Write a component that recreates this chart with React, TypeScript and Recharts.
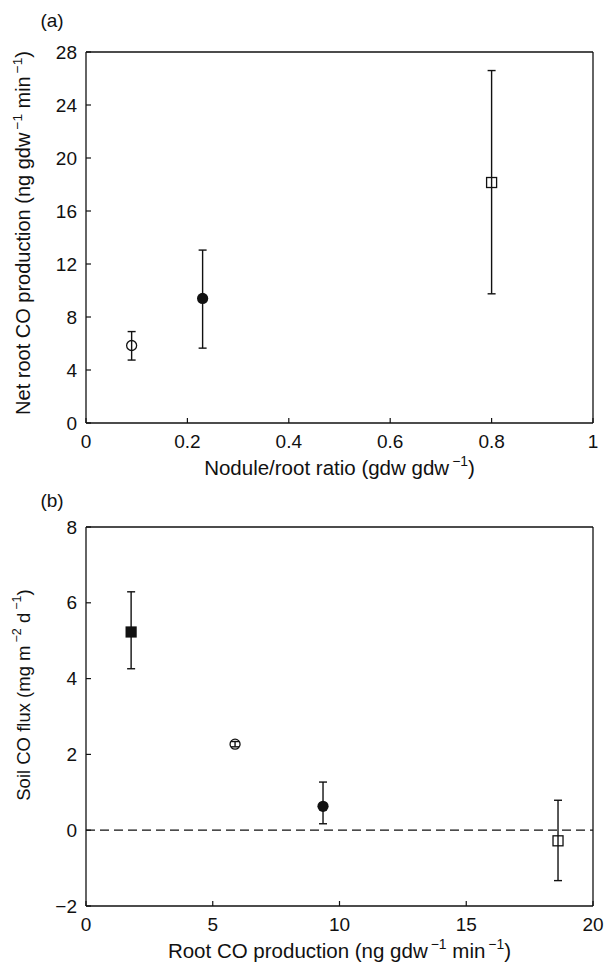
import React from "react";
import { ScatterChart, Scatter, XAxis, YAxis, ErrorBar, ReferenceLine, Label } from "recharts";

const FONT = '"Liberation Sans", Arial, Helvetica, sans-serif';
const INK = "#111";
const TICK_LEN = 5;
const FS = 19;

// (a) net root CO production against nodule/root ratio
const ratioA = [0.09, 0.23, 0.8];
const prodA = [5.85, 9.4, 18.15];
const lowA = [4.75, 5.65, 9.75];
const highA = [6.9, 13.05, 26.6];
const markA = ["openCircle", "filledCircle", "openSquare"];
const xTicksA = [0, 0.2, 0.4, 0.6, 0.8, 1];
const yTicksA = [0, 4, 8, 12, 16, 20, 24, 28];

// (b) soil CO flux against root CO production
const prodB = [1.78, 5.88, 9.35, 18.62];
const fluxB = [5.23, 2.27, 0.63, -0.28];
const lowB = [4.26, 2.2, 0.17, -1.33];
const highB = [6.29, 2.34, 1.27, 0.79];
const markB = ["filledSquare", "openCircle", "filledCircle", "openSquare"];
const xTicksB = [0, 5, 10, 15, 20];
const yTicksB = [-2, 0, 2, 4, 6, 8];

const toPoints = (xs: number[], ys: number[], lo: number[], hi: number[], marks: string[]) =>
  xs.map((x, i) => ({ x, y: ys[i], err: [ys[i] - lo[i], hi[i] - ys[i]], mark: marks[i] }));

const pointsA = toPoints(ratioA, prodA, lowA, highA, markA);
const pointsB = toPoints(prodB, fluxB, lowB, highB, markB);

const fmt = (v: number) => (v < 0 ? `\u2212${-v}` : `${v}`);

const Marker = (props: any) => {
  const { cx, cy, payload } = props;
  switch (payload.mark) {
    case "filledCircle":
      return <circle cx={cx} cy={cy} r={5.6} fill={INK} />;
    case "openCircle":
      return <circle cx={cx} cy={cy} r={5} fill="none" stroke={INK} strokeWidth={1.3} />;
    case "filledSquare":
      return <rect x={cx - 5.6} y={cy - 5.6} width={11.2} height={11.2} fill={INK} />;
    default:
      return <rect x={cx - 5} y={cy - 5} width={10} height={10} fill="none" stroke={INK} strokeWidth={1.3} />;
  }
};

// inward ticks on all four sides of the frame
const BottomTick = ({ x, y, payload }: any) => (
  <g>
    <line x1={x} x2={x} y1={y} y2={y - TICK_LEN} stroke={INK} strokeWidth={1.2} />
    <text x={x} y={y + 18} textAnchor="middle" dominantBaseline="central" fontSize={FS} fontFamily={FONT} fill={INK}>
      {fmt(payload.value)}
    </text>
  </g>
);
const LeftTick = ({ x, y, payload }: any) => (
  <g>
    <line x1={x} x2={x + TICK_LEN} y1={y} y2={y} stroke={INK} strokeWidth={1.2} />
    <text x={x - 9} y={y} textAnchor="end" dominantBaseline="central" fontSize={FS} fontFamily={FONT} fill={INK}>
      {fmt(payload.value)}
    </text>
  </g>
);
const TopTick = ({ x, y }: any) => <line x1={x} x2={x} y1={y} y2={y + TICK_LEN} stroke={INK} strokeWidth={1.2} />;
const RightTick = ({ x, y }: any) => <line x1={x} x2={x - TICK_LEN} y1={y} y2={y} stroke={INK} strokeWidth={1.2} />;

// raised exponent followed by the rest of the title on the baseline
const Sup = ({ exp, after }: { exp: string; after: string }) => (
  <>
    <tspan dx={3} dy={-6} fontSize="0.68em">{exp}</tspan>
    <tspan dy={6}>{after}</tspan>
  </>
);

const textProps = { fontFamily: FONT, fill: INK, textAnchor: "middle" as const, dominantBaseline: "central" as const };

const axisStroke = { stroke: INK, strokeWidth: 1.3 };

interface PanelProps {
  tag: string;
  points: any[];
  width: number;
  height: number;
  plot: { left: number; top: number; right: number; bottom: number };
  xDomain: [number, number];
  yDomain: [number, number];
  xTicks: number[];
  yTicks: number[];
  xTitle: React.ReactNode;
  yTitle: React.ReactNode;
  yTitleCenter: number;
  yTitleSize: number;
  zeroLine?: boolean;
}

const Panel = (p: PanelProps) => {
  const { plot } = p;
  const xMid = (plot.left + plot.right) / 2;
  return (
    <ScatterChart
      width={p.width}
      height={p.height}
      margin={{ top: plot.top - 1, right: p.width - plot.right - 1, bottom: 0, left: 0 }}
    >
      <XAxis
        type="number" dataKey="x" domain={p.xDomain} ticks={p.xTicks} interval={0}
        height={p.height - plot.bottom} tickSize={0} tickMargin={0} tickLine={false}
        axisLine={axisStroke} tick={<BottomTick />}
      >
        <Label
          content={() => (
            <text x={xMid} y={plot.bottom + 44} fontSize={20.5} {...textProps}>{p.xTitle}</text>
          )}
        />
      </XAxis>
      <XAxis
        xAxisId="mirror" orientation="top" type="number" dataKey="x" domain={p.xDomain} ticks={p.xTicks} interval={0}
        height={1} tickSize={0} tickMargin={0} tickLine={false} axisLine={axisStroke} tick={<TopTick />}
      />
      <YAxis
        type="number" dataKey="y" domain={p.yDomain} ticks={p.yTicks} interval={0}
        width={plot.left} tickSize={0} tickMargin={0} tickLine={false}
        axisLine={axisStroke} tick={<LeftTick />}
      >
        <Label
          content={() => (
            <g>
              <text
                x={23} y={p.yTitleCenter} fontSize={p.yTitleSize}
                transform={`rotate(-90 23 ${p.yTitleCenter})`} {...textProps}
              >
                {p.yTitle}
              </text>
              <text x={52} y={20} fontSize={FS} {...textProps}>{p.tag}</text>
            </g>
          )}
        />
      </YAxis>
      <YAxis
        yAxisId="mirror" orientation="right" type="number" dataKey="y" domain={p.yDomain} ticks={p.yTicks} interval={0}
        width={1} tickSize={0} tickMargin={0} tickLine={false} axisLine={axisStroke} tick={<RightTick />}
      />
      {p.zeroLine && <ReferenceLine y={0} stroke={INK} strokeWidth={1.3} strokeDasharray="9 5" />}
      {/* empty series so the mirrored frame axes are drawn */}
      <Scatter xAxisId="mirror" yAxisId="mirror" data={[]} isAnimationActive={false} />
      <Scatter data={p.points} shape={Marker} isAnimationActive={false}>
        <ErrorBar dataKey="err" direction="y" width={4} stroke={INK} strokeWidth={1.4} isAnimationActive={false} />
      </Scatter>
    </ScatterChart>
  );
};

export default function App() {
  return (
    <div style={{ position: "absolute", left: 0, top: 0, width: 607, height: 963, background: "#fff" }}>
      <div style={{ position: "absolute", left: 0, top: 0 }}>
        <Panel
          tag="(a)"
          points={pointsA}
          width={607}
          height={480}
          plot={{ left: 86, top: 52, right: 593, bottom: 423 }}
          xDomain={[0, 1]}
          yDomain={[0, 28]}
          xTicks={xTicksA}
          yTicks={yTicksA}
          xTitle={<>Nodule/root ratio (gdw gdw<Sup exp={"\u22121"} after=")" /></>}
          yTitle={<>Net root CO production (ng gdw<Sup exp={"\u22121"} after=" min" /><Sup exp={"\u22121"} after=")" /></>}
          yTitleCenter={233}
          yTitleSize={20}
        />
      </div>
      <div style={{ position: "absolute", left: 0, top: 480 }}>
        <Panel
          tag="(b)"
          points={pointsB}
          width={607}
          height={483}
          plot={{ left: 86, top: 47, right: 593, bottom: 426 }}
          xDomain={[0, 20]}
          yDomain={[-2, 8]}
          xTicks={xTicksB}
          yTicks={yTicksB}
          xTitle={<>Root CO production (ng gdw<Sup exp={"\u22121"} after=" min" /><Sup exp={"\u22121"} after=")" /></>}
          yTitle={<>Soil CO flux (mg m<Sup exp={"\u22122"} after=" d" /><Sup exp={"\u22121"} after=")" /></>}
          yTitleCenter={215}
          yTitleSize={18.5}
          zeroLine
        />
      </div>
    </div>
  );
}
